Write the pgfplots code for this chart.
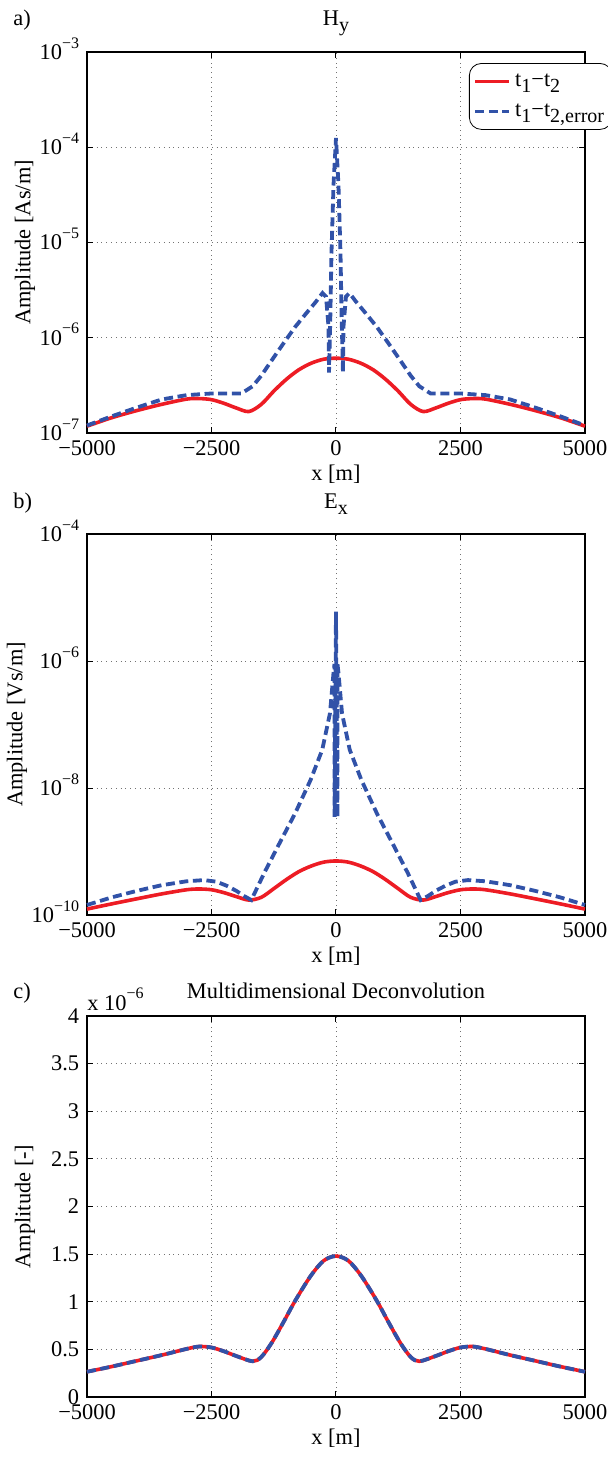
\documentclass[border=0pt]{standalone}
\usepackage{fontspec}
\setmainfont{Liberation Serif}
\usepackage{pgfplots}
\pgfplotsset{compat=1.18}

\definecolor{mred}{RGB}{237,28,36}
\definecolor{mblue}{RGB}{49,82,168}

% superscript / subscript in the MATLAB manner
\newcommand{\sups}[1]{\smash{\raisebox{1.1ex}{\fontsize{8}{8}\selectfont #1}}}
\newcommand{\dec}[1]{10\sups{−#1}}
\newcommand{\subs}[1]{\raisebox{-0.6ex}{\fontsize{10}{10}\selectfont #1}}

\pgfplotsset{
  mstyle/.style={
    scale only axis, width=249pt, height=190.5pt,
    xmin=-5000, xmax=5000,
    xtick={-5000,-2500,0,2500,5000},
    xticklabels={−5000,−2500,0,2500,5000},
    grid=major,
    major grid style={dotted, black!55, line width=0.4pt},
    tick align=inside,
    major tick length=3pt,
    xminorticks=false, yminorticks=false,
    axis line style={line width=0.6pt},
    tick style={black, line width=0.5pt},
    tick label style={font=\fontsize{11.2}{13}\selectfont},
    clip=false,
  },
  redline/.style={color=mred, line width=1.8pt, no markers},
  blueline/.style={color=mblue, line width=1.9pt, no markers, dash pattern=on 4.5pt off 2.3pt},
}

\begin{document}
\fontsize{11.2}{13}\selectfont
\begin{tikzpicture}
\useasboundingbox (-43.5pt,-703pt) rectangle (260.5pt,26pt);

% a) H_y
\begin{axis}[mstyle, at={(0,0)}, anchor=north west,
  ymode=log, ymin=1e-7, ymax=1e-3,
  ytick={1e-7,1e-6,1e-5,1e-4,1e-3},
  yticklabels={\dec{7},\dec{6},\dec{5},\dec{4},\dec{3}},
  legend style={at={(rel axis cs:0.767,0.971)}, anchor=north west,
    rounded corners=6pt, draw=black, fill=white, inner xsep=2pt, inner ysep=3pt,
    row sep=3pt, font=\fontsize{11.2}{13}\selectfont},
  legend cell align=left,
  legend image code/.code={\draw[#1] (0pt,0pt) -- (17pt,0pt);}]
\addplot[redline, smooth] coordinates {
(-5000,1.18e-7) (-4500,1.45e-7) (-4000,1.72e-7) (-3500,2.0e-7) (-3000,2.27e-7)
(-2750,2.3e-7) (-2500,2.24e-7) (-2250,2.05e-7) (-2000,1.83e-7) (-1750,1.68e-7)
(-1500,2.0e-7) (-1250,2.75e-7) (-1000,3.65e-7) (-750,4.6e-7) (-500,5.4e-7)
(-250,5.95e-7) (0,6.1e-7) (250,5.95e-7) (500,5.4e-7) (750,4.6e-7)
(1000,3.65e-7) (1250,2.75e-7) (1500,2.0e-7) (1750,1.68e-7) (2000,1.83e-7)
(2250,2.05e-7) (2500,2.24e-7) (2750,2.3e-7) (3000,2.27e-7) (3500,2.0e-7)
(4000,1.72e-7) (4500,1.45e-7) (5000,1.18e-7)};
\addlegendentry{t\subs{1}−t\subs{2}}
\addplot[blueline] coordinates {
(-5000,1.2e-7) (-4500,1.5e-7) (-4000,1.85e-7) (-3500,2.25e-7) (-3000,2.5e-7)
(-2500,2.6e-7) (-1900,2.6e-7) (-1673,3.1e-7) (-1500,4e-7) (-1290,5.8e-7)
(-1050,8.8e-7) (-820,1.3e-6) (-600,1.8e-6) (-400,2.4e-6) (-270,2.95e-6)
(-200,2.7e-6) (-150,1.3e-6) (-140,4.3e-7) (-115,1.5e-6) (-90,8e-6)
(-50,4e-5) (0,1.25e-4) (50,4e-5) (90,8e-6) (115,1.5e-6) (140,4.3e-7)
(150,1.3e-6) (200,2.7e-6) (270,2.95e-6) (400,2.4e-6) (600,1.8e-6)
(820,1.3e-6) (1050,8.8e-7) (1290,5.8e-7) (1500,4e-7) (1673,3.1e-7)
(1900,2.6e-7) (2500,2.6e-7) (3000,2.5e-7) (3500,2.25e-7) (4000,1.85e-7)
(4500,1.5e-7) (5000,1.2e-7)};
\addlegendentry{t\subs{1}−t\subs{2,error}}
\node[anchor=base west, inner sep=0] at ([xshift=-37pt, yshift=13.5pt]rel axis cs:0,1) {a)};
\node[anchor=base, inner sep=0] at ([yshift=13.5pt]rel axis cs:0.5,1) {H\subs{y}};
\node[rotate=90, anchor=center] at ([xshift=-31pt]rel axis cs:0,0.5) {Amplitude [As/m]};
\node[anchor=base, inner sep=0] at ([yshift=-23.5pt]rel axis cs:0.5,0) {x [m]};
\end{axis}

% b) E_x
\begin{axis}[mstyle, at={(0,-241pt)}, anchor=north west,
  ymode=log, ymin=1e-10, ymax=1e-4,
  ytick={1e-10,1e-8,1e-6,1e-4},
  yticklabels={\dec{10},\dec{8},\dec{6},\dec{4}}]
\addplot[redline, smooth] coordinates {
(-5000,1.24e-10) (-4500,1.5e-10) (-4000,1.8e-10) (-3500,2.15e-10) (-3000,2.5e-10)
(-2750,2.57e-10) (-2500,2.5e-10) (-2250,2.25e-10) (-2000,1.95e-10) (-1750,1.72e-10)
(-1500,1.9e-10) (-1250,2.6e-10) (-1000,3.6e-10) (-750,4.8e-10) (-500,5.9e-10)
(-250,6.8e-10) (0,7.1e-10) (250,6.8e-10) (500,5.9e-10) (750,4.8e-10)
(1000,3.6e-10) (1250,2.6e-10) (1500,1.9e-10) (1750,1.72e-10) (2000,1.95e-10)
(2250,2.25e-10) (2500,2.5e-10) (2750,2.57e-10) (3000,2.5e-10) (3500,2.15e-10)
(4000,1.8e-10) (4500,1.5e-10) (5000,1.24e-10)};
\addplot[blueline] coordinates {
(-5000,1.44e-10) (-4500,1.9e-10) (-4000,2.4e-10) (-3500,2.95e-10) (-3000,3.4e-10)
(-2650,3.55e-10) (-2400,3.35e-10) (-2200,2.9e-10) (-2000,2.4e-10) (-1850,2e-10)
(-1700,1.72e-10) (-1441,4.6e-10) (-1132,1.36e-9) (-820,4e-9) (-510,1.34e-8)
(-276,4e-8) (-121,1.5e-7) (-50,6.5e-7) (-30,9e-7) (-28,3.5e-9) (0,6e-6)
(28,3.5e-9) (30,9e-7) (50,6.5e-7) (121,1.5e-7) (276,4e-8) (510,1.34e-8)
(820,4e-9) (1132,1.36e-9) (1441,4.6e-10) (1700,1.72e-10) (1850,2e-10)
(2000,2.4e-10) (2200,2.9e-10) (2400,3.35e-10) (2650,3.55e-10) (3000,3.4e-10)
(3500,2.95e-10) (4000,2.4e-10) (4500,1.9e-10) (5000,1.44e-10)};
\node[anchor=base west, inner sep=0] at ([xshift=-37pt, yshift=13pt]rel axis cs:0,1) {b)};
\node[anchor=base, inner sep=0] at ([yshift=13pt]rel axis cs:0.5,1) {E\subs{x}};
\node[rotate=90, anchor=center] at ([xshift=-35pt]rel axis cs:0,0.5) {Amplitude [Vs/m]};
\node[anchor=base, inner sep=0] at ([yshift=-23.5pt]rel axis cs:0.5,0) {x [m]};
\end{axis}

% c) Multidimensional Deconvolution
\begin{axis}[mstyle, at={(0,-482pt)}, anchor=north west,
  ymin=0, ymax=4,
  ytick={0,0.5,1,1.5,2,2.5,3,3.5,4},
  yticklabels={0,0.5,1,1.5,2,2.5,3,3.5,4}]
\addplot[redline, smooth] coordinates {
(-5000,0.265) (-4500,0.32) (-4000,0.38) (-3500,0.44) (-3000,0.505)
(-2750,0.53) (-2500,0.52) (-2250,0.48) (-2000,0.43) (-1673,0.375)
(-1500,0.42) (-1290,0.57) (-1050,0.79) (-820,1.01) (-510,1.27)
(-250,1.43) (0,1.48) (250,1.43) (510,1.27) (820,1.01) (1050,0.79)
(1290,0.57) (1500,0.42) (1673,0.375) (2000,0.43) (2250,0.48)
(2500,0.52) (2750,0.53) (3000,0.505) (3500,0.44) (4000,0.38)
(4500,0.32) (5000,0.265)};
\addplot[blueline, smooth] coordinates {
(-5000,0.265) (-4500,0.32) (-4000,0.38) (-3500,0.44) (-3000,0.505)
(-2750,0.53) (-2500,0.52) (-2250,0.48) (-2000,0.43) (-1673,0.375)
(-1500,0.42) (-1290,0.57) (-1050,0.79) (-820,1.01) (-510,1.27)
(-250,1.43) (0,1.48) (250,1.43) (510,1.27) (820,1.01) (1050,0.79)
(1290,0.57) (1500,0.42) (1673,0.375) (2000,0.43) (2250,0.48)
(2500,0.52) (2750,0.53) (3000,0.505) (3500,0.44) (4000,0.38)
(4500,0.32) (5000,0.265)};
\node[anchor=base west, inner sep=0] at ([xshift=-37pt, yshift=9pt]rel axis cs:0,1) {c)};
\node[anchor=base, inner sep=0] at ([yshift=9pt]rel axis cs:0.5,1) {Multidimensional Deconvolution};
\node[anchor=base west, inner sep=0] at ([yshift=3pt]rel axis cs:0,1) {x 10\sups{−6}};
\node[rotate=90, anchor=center] at ([xshift=-31pt]rel axis cs:0,0.5) {Amplitude [-]};
\node[anchor=base, inner sep=0] at ([yshift=-23.5pt]rel axis cs:0.5,0) {x [m]};
\end{axis}
\end{tikzpicture}
\end{document}
